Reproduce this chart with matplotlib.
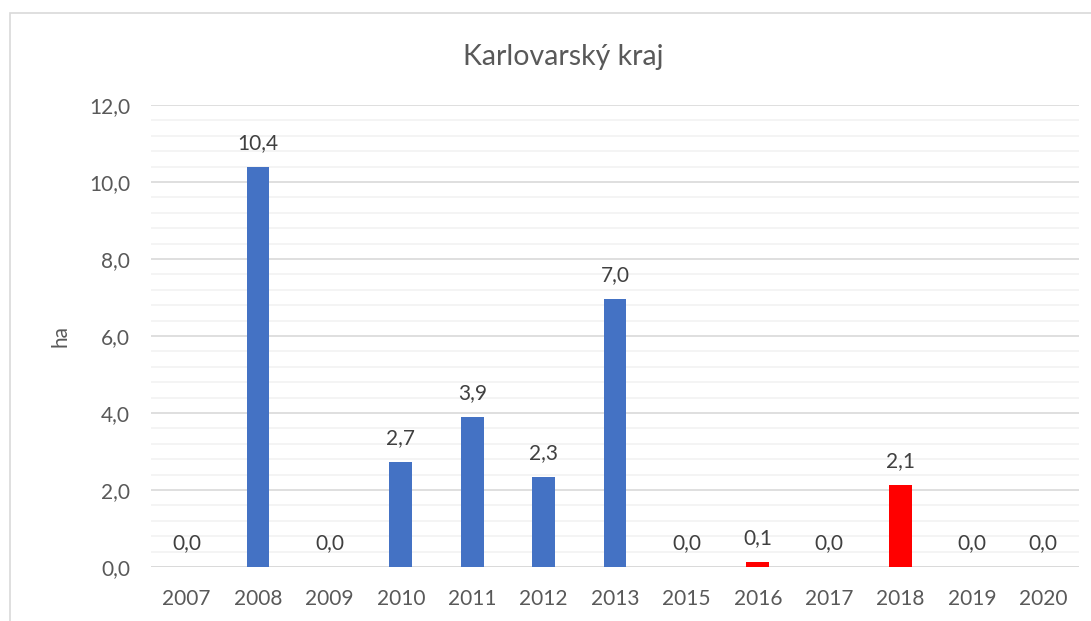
import numpy as np
import matplotlib
matplotlib.use("Agg")
import matplotlib.pyplot as plt
from matplotlib.patches import Rectangle
from matplotlib.ticker import MultipleLocator, FuncFormatter

# data
years = ["2007", "2008", "2009", "2010", "2011", "2012", "2013",
         "2015", "2016", "2017", "2018", "2019", "2020"]
values = [0.0, 10.4, 0.0, 2.73, 3.9, 2.34, 6.95, 0.0, 0.14, 0.0, 2.12, 0.0, 0.0]
highlight = ["2016", "2018"]  # red bars

plt.rcParams["font.family"] = ["Lato", "DejaVu Sans"]
TXT = "#595959"

fig = plt.figure(figsize=(10.91, 6.21), dpi=100)
ax = fig.add_axes([151 / 1091, 1 - 567 / 621, (1079 - 151) / 1091, (567 - 105) / 621])

# chart frame like in excel
fig.patches.append(Rectangle((10 / 1091, -0.1), 1.2, 1 - 13 / 621 + 0.1,
                             transform=fig.transFigure, fill=False,
                             edgecolor="#D9D9D9", linewidth=1.2))

x = np.arange(len(years))
colors = ["#FF0000" if y in highlight else "#4472C4" for y in years]
ax.bar(x, values, width=0.32, color=colors, zorder=3)

for xi, v in zip(x, values):
    ax.annotate(f"{v:.1f}".replace(".", ","), (xi, v), xytext=(0, 10),
                textcoords="offset points", ha="center", va="bottom",
                fontsize=15, color="#404040")

ax.set_xlim(-0.5, len(years) - 0.5)
ax.set_ylim(0, 12)
ax.yaxis.set_major_locator(MultipleLocator(2))
ax.yaxis.set_minor_locator(MultipleLocator(0.4))
ax.yaxis.set_major_formatter(FuncFormatter(lambda v, p: f"{v:.1f}".replace(".", ",")))
ax.grid(axis="y", which="major", color="#D9D9D9", linewidth=1.2, zorder=0)
ax.grid(axis="y", which="minor", color="#F2F2F2", linewidth=1.2, zorder=0)

ax.set_xticks(x)
ax.set_xticklabels(years)
ax.tick_params(axis="both", which="both", length=0, labelsize=15, colors=TXT)
ax.tick_params(axis="x", pad=16)
ax.tick_params(axis="y", pad=15)

for s in ax.spines.values():
    s.set_visible(False)
ax.axhline(0, color="#D9D9D9", linewidth=1.2, zorder=2)

ax.set_ylabel("ha", fontsize=15, color=TXT, labelpad=13)
fig.text(563 / 1091, 1 - 57 / 621, "Karlovarský kraj", ha="center", va="center",
         fontsize=20.5, color=TXT)

fig.savefig("out.png", dpi=100)
